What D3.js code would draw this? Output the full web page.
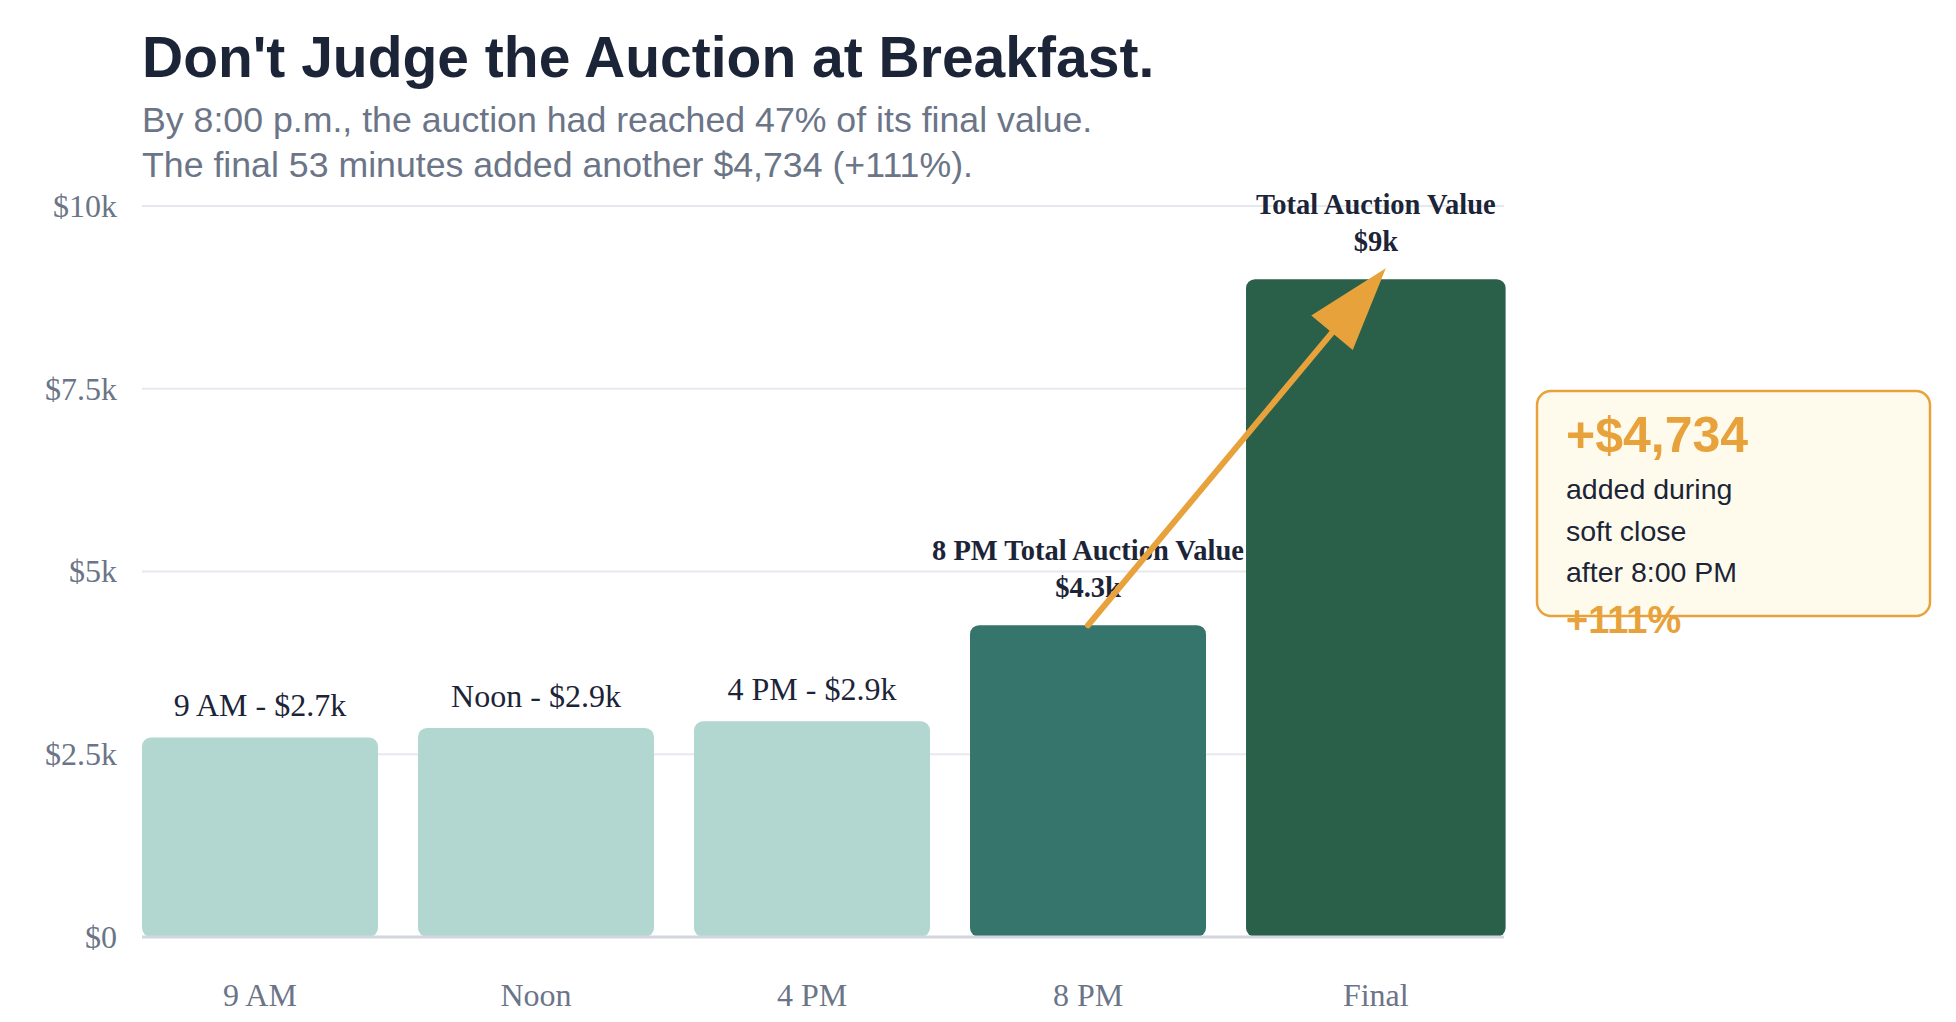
<!DOCTYPE html>
<html>
<head>
<meta charset="utf-8">
<script src="https://cdn.jsdelivr.net/npm/d3@7"></script>
<style>
  body { margin: 0; background: #fff; }
</style>
</head>
<body>
<div id="visContainer"></div>
<script>
// chart values
const categories = ["9 AM", "Noon", "4 PM", "8 PM", "Final"];
const values = [2730, 2860, 2950, 4265, 8999];
const barColors = ["#b2d7d0", "#b2d7d0", "#b2d7d0", "#36756c", "#2a604a"];
const barLabels = [["9 AM - $2.7k"], ["Noon - $2.9k"], ["4 PM - $2.9k"],
  ["8 PM Total Auction Value", "$4.3k"], ["Total Auction Value", "$9k"]];
const yTicks = [0, 2500, 5000, 7500, 10000];
const yTickLabels = ["$0", "$2.5k", "$5k", "$7.5k", "$10k"];
const subtitleLines = [
  "By 8:00 p.m., the auction had reached 47% of its final value.",
  "The final 53 minutes added another $4,734 (+111%)."
];
const calloutLines = ["added during", "soft close", "after 8:00 PM"];

const width = 1956;
const height = 1022;
const margin = { top: 206, right: 452, bottom: 85, left: 142 };

const navy = "#1c2437";
const gray = "#6b7587";
const orange = "#e8a23c";

const svg = d3.select("#visContainer")
  .append("svg")
  .attr("width", width)
  .attr("height", height);

// title + subtitle
svg.append("text")
  .attr("x", margin.left).attr("y", 77)
  .attr("font-family", "Liberation Sans, Arial, sans-serif")
  .attr("font-weight", "bold").attr("font-size", 57)
  .attr("fill", navy)
  .text("Don't Judge the Auction at Breakfast.");

svg.selectAll("text.subtitle")
  .data(subtitleLines)
  .join("text")
  .attr("class", "subtitle")
  .attr("x", margin.left)
  .attr("y", (d, i) => 132 + i * 45)
  .attr("font-family", "Liberation Sans, Arial, sans-serif")
  .attr("font-size", 35.7)
  .attr("fill", gray)
  .text(d => d);

const plotRight = width - margin.right; // 1504

const xScale = d3.scaleBand()
  .domain(categories)
  .range([margin.left, 1482])
  .paddingInner(0.145)
  .paddingOuter(0);

const yScale = d3.scaleLinear()
  .domain([0, 10000])
  .range([height - margin.bottom, margin.top]);

const barWidth = (d) => d === "Final" ? xScale.bandwidth() * 1.1 : xScale.bandwidth();
const barCenter = (d) => xScale(d) + barWidth(d) / 2;

// gridlines
svg.append("g")
  .selectAll("line")
  .data(yTicks.slice(1))
  .join("line")
  .attr("x1", margin.left).attr("x2", plotRight)
  .attr("y1", d => yScale(d)).attr("y2", d => yScale(d))
  .attr("stroke", "#e6e8ee")
  .attr("stroke-width", 2);

// y axis labels
const yAxis = d3.axisLeft(yScale)
  .tickValues(yTicks)
  .tickFormat((d, i) => yTickLabels[i])
  .tickSize(0)
  .tickPadding(25);

svg.append("g")
  .attr("transform", `translate(${margin.left}, 0)`)
  .call(yAxis)
  .call(g => g.select(".domain").remove())
  .call(g => g.selectAll("text")
    .attr("font-family", "Liberation Serif, Times New Roman, serif")
    .attr("font-size", 32)
    .attr("fill", gray));

// bars
const data = categories.map((c, i) => ({ cat: c, value: values[i], color: barColors[i], label: barLabels[i] }));

svg.append("g")
  .selectAll("rect")
  .data(data)
  .join("rect")
  .attr("x", d => xScale(d.cat))
  .attr("y", d => yScale(d.value))
  .attr("width", d => barWidth(d.cat))
  .attr("height", d => yScale(0) - yScale(d.value))
  .attr("rx", 9)
  .attr("fill", d => d.color);

// baseline
svg.append("line")
  .attr("x1", margin.left).attr("x2", plotRight)
  .attr("y1", yScale(0)).attr("y2", yScale(0))
  .attr("stroke", "#d3d6df")
  .attr("stroke-width", 3);

// x axis labels
const xAxis = d3.axisBottom(xScale).tickSize(0).tickPadding(46);
svg.append("g")
  .attr("transform", `translate(0, ${yScale(0)})`)
  .call(xAxis)
  .call(g => g.select(".domain").remove())
  .call(g => g.selectAll(".tick")
    .attr("transform", d => `translate(${barCenter(d)},0)`))
  .call(g => g.selectAll("text")
    .attr("font-family", "Liberation Serif, Times New Roman, serif")
    .attr("font-size", 32)
    .attr("fill", gray));

// bar labels
const labelG = svg.append("g");
data.forEach(d => {
  const top = yScale(d.value);
  if (d.label.length === 1) {
    labelG.append("text")
      .attr("x", barCenter(d.cat))
      .attr("y", top - 21)
      .attr("text-anchor", "middle")
      .attr("font-family", "Liberation Serif, Times New Roman, serif")
      .attr("font-size", 32)
      .attr("fill", navy)
      .text(d.label[0]);
  } else {
    d.label.forEach((line, i) => {
      labelG.append("text")
        .attr("x", barCenter(d.cat))
        .attr("y", top - 28 - (d.label.length - 1 - i) * 37)
        .attr("text-anchor", "middle")
        .attr("font-family", "Liberation Serif, Times New Roman, serif")
        .attr("font-weight", "bold")
        .attr("font-size", 28.5)
        .attr("fill", navy)
        .text(line);
    });
  }
});

// arrow from 8 PM to Final
const p0 = [barCenter("8 PM"), yScale(values[3])];
const p1 = [barCenter("Final") + 10, yScale(values[4]) - 11];
const dx = p1[0] - p0[0], dy = p1[1] - p0[1];
const len = Math.hypot(dx, dy);
const ux = dx / len, uy = dy / len;
const headLen = 84, headW = 54;
const base = [p1[0] - ux * headLen, p1[1] - uy * headLen];

svg.append("line")
  .attr("x1", p0[0]).attr("y1", p0[1])
  .attr("x2", base[0] + ux * 4).attr("y2", base[1] + uy * 4)
  .attr("stroke", orange)
  .attr("stroke-width", 6)
  .attr("stroke-linecap", "round");

svg.append("path")
  .attr("d", d3.line()([
    p1,
    [base[0] - uy * headW / 2, base[1] + ux * headW / 2],
    [base[0] + uy * headW / 2, base[1] - ux * headW / 2]
  ]) + "Z")
  .attr("fill", orange);

// callout box
const box = { x: 1537, y: 391, w: 393, h: 225 };
svg.append("rect")
  .attr("x", box.x).attr("y", box.y)
  .attr("width", box.w).attr("height", box.h)
  .attr("rx", 14)
  .attr("fill", "#fffbec")
  .attr("stroke", orange)
  .attr("stroke-width", 2.5);

svg.append("text")
  .attr("x", box.x + 29).attr("y", box.y + 61)
  .attr("font-family", "Liberation Sans, Arial, sans-serif")
  .attr("font-weight", "bold").attr("font-size", 50)
  .attr("fill", orange)
  .text("+$4,734");

svg.selectAll("text.callout")
  .data(calloutLines)
  .join("text")
  .attr("class", "callout")
  .attr("x", box.x + 29)
  .attr("y", (d, i) => box.y + 108 + i * 41.5)
  .attr("font-family", "Liberation Sans, Arial, sans-serif")
  .attr("font-size", 28.5)
  .attr("fill", navy)
  .text(d => d);

svg.append("text")
  .attr("x", box.x + 29).attr("y", box.y + 242)
  .attr("font-family", "Liberation Sans, Arial, sans-serif")
  .attr("font-weight", "bold").attr("font-size", 38)
  .attr("fill", orange)
  .text("+111%");
</script>
</body>
</html>
